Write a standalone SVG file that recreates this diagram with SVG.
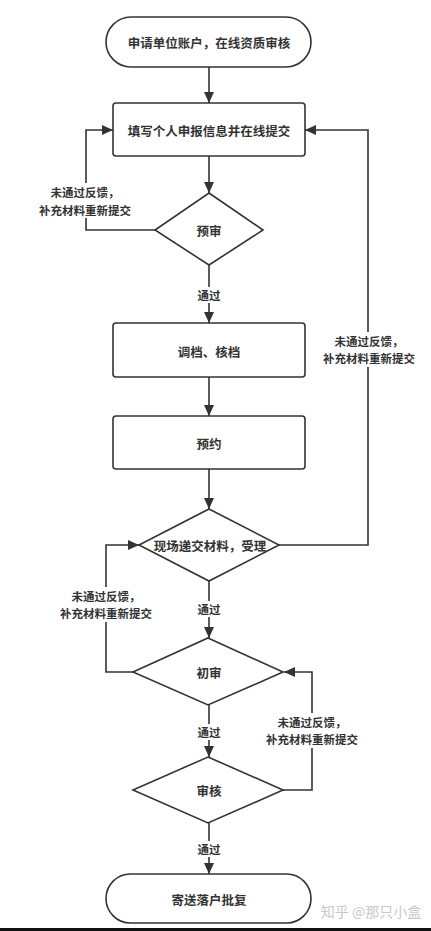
<svg xmlns="http://www.w3.org/2000/svg" width="431" height="931" viewBox="0 0 431 931">
<defs>
<marker id="arr" markerUnits="userSpaceOnUse" markerWidth="12" markerHeight="10" refX="11" refY="5" orient="auto">
<path d="M0,0 L11,5 L0,10 Z" fill="#333"/>
</marker>
<style>
.shape{fill:#fff;stroke:#333;stroke-width:1.6}
.line{fill:none;stroke:#333;stroke-width:1.6}
.t{font-family:"Noto Sans CJK SC","Noto Sans",sans-serif;font-size:12.5px;font-weight:bold;fill:#333;text-anchor:middle;dominant-baseline:central}
.lb{font-family:"Noto Sans CJK SC","Noto Sans",sans-serif;font-size:11.5px;font-weight:bold;fill:#333;text-anchor:middle;dominant-baseline:central}
.bg{fill:#fff}
</style>
</defs>
<rect width="431" height="931" fill="#fff"/>
<g id="connectors">
<path class="line" d="M209,67 V103" marker-end="url(#arr)"/>
<path class="line" d="M209,156 V193" marker-end="url(#arr)"/>
<path class="line" d="M155,230 H86 V130 H113" marker-end="url(#arr)"/>
<path class="line" d="M209,265 V323" marker-end="url(#arr)"/>
<path class="line" d="M209,377 V416" marker-end="url(#arr)"/>
<path class="line" d="M209,469 V509" marker-end="url(#arr)"/>
<path class="line" d="M279,545 H368 V130 H305" marker-end="url(#arr)"/>
<path class="line" d="M209,581 V638" marker-end="url(#arr)"/>
<path class="line" d="M133,672 H106 V545 H139" marker-end="url(#arr)"/>
<path class="line" d="M209,705 V757" marker-end="url(#arr)"/>
<path class="line" d="M283,790 H312 V672 H284" marker-end="url(#arr)"/>
<path class="line" d="M209,823 V874" marker-end="url(#arr)"/>
<g id="labels">
<rect class="bg" x="34" y="183" width="102" height="35"/>
<text class="lb" x="85" y="192">未通过反馈，</text>
<text class="lb" x="85" y="210">补充材料重新提交</text>
<rect class="bg" x="320" y="332" width="97" height="35"/>
<text class="lb" x="369" y="341">未通过反馈，</text>
<text class="lb" x="369" y="358">补充材料重新提交</text>
<rect class="bg" x="57" y="587" width="98" height="35"/>
<text class="lb" x="106" y="596">未通过反馈，</text>
<text class="lb" x="106" y="613">补充材料重新提交</text>
<rect class="bg" x="263" y="713" width="98" height="35"/>
<text class="lb" x="312" y="722">未通过反馈，</text>
<text class="lb" x="312" y="739">补充材料重新提交</text>
<rect class="bg" x="195" y="287" width="28" height="16"/>
<text class="lb" x="209" y="295">通过</text>
<rect class="bg" x="195" y="601" width="28" height="16"/>
<text class="lb" x="209" y="609">通过</text>
<rect class="bg" x="195" y="724" width="28" height="16"/>
<text class="lb" x="209" y="732">通过</text>
<rect class="bg" x="195" y="841" width="28" height="16"/>
<text class="lb" x="209" y="849">通过</text>
</g>
</g>
<g id="n-start">
<rect class="shape" x="106" y="17" width="205" height="50" rx="25"/>
<text class="t" x="209" y="42">申请单位账户，在线资质审核</text>
</g>
<g id="n-fill">
<rect class="shape" x="113" y="103" width="192" height="53" rx="3"/>
<text class="t" x="209" y="130">填写个人申报信息并在线提交</text>
</g>
<g id="n-pre">
<polygon class="shape" points="209,193 263,230 209,265 155,230"/>
<text class="t" x="209" y="230">预审</text>
</g>
<g id="n-file">
<rect class="shape" x="113" y="323" width="192" height="54" rx="3"/>
<text class="t" x="209" y="351">调档、核档</text>
</g>
<g id="n-book">
<rect class="shape" x="113" y="416" width="192" height="53" rx="3"/>
<text class="t" x="209" y="443">预约</text>
</g>
<g id="n-submit">
<polygon class="shape" points="209,509 279,545 209,581 139,545"/>
<text class="t" x="210" y="545">现场递交材料，受理</text>
</g>
<g id="n-first">
<polygon class="shape" points="208,638 283,672 208,705 133,672"/>
<text class="t" x="209" y="672">初审</text>
</g>
<g id="n-review">
<polygon class="shape" points="208,757 283,790 208,823 133,790"/>
<text class="t" x="209" y="790">审核</text>
</g>
<g id="n-end">
<rect class="shape" x="106" y="874" width="205" height="49" rx="24.5"/>
<text class="t" x="209" y="899">寄送落户批复</text>
</g>
<text x="371" y="911" font-family="'Noto Sans CJK SC','Noto Sans',sans-serif" font-size="14" fill="#c8c8c8" text-anchor="middle" dominant-baseline="central">知乎 @那只小盒</text>
<rect x="0" y="928" width="431" height="3" fill="#111"/>
</svg>
